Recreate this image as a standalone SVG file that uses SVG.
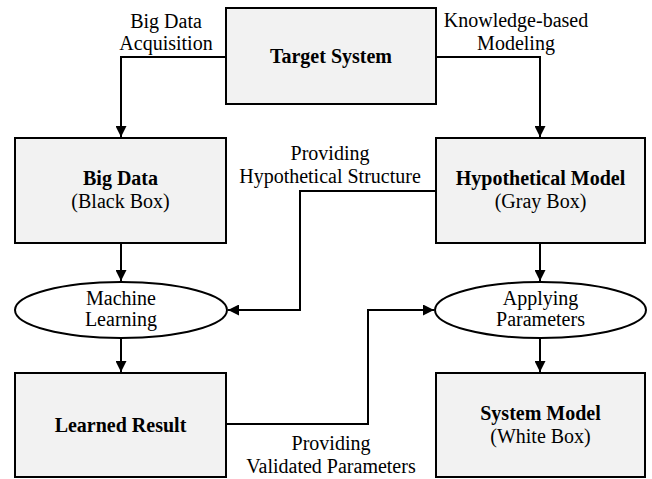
<svg xmlns="http://www.w3.org/2000/svg" width="652" height="479" viewBox="0 0 652 479">
  <style>
    .box { fill: #f2f2f2; stroke: #000; stroke-width: 2; }
    .oval { fill: #fff; stroke: #000; stroke-width: 2; }
    .wire { fill: none; stroke: #000; stroke-width: 2; }
    text { font-family: "Liberation Serif", Tinos, "DejaVu Serif", "Noto Serif", serif; font-size: 20px; fill: #000; text-anchor: middle; }
    .b { font-weight: bold; }
  </style>
  <defs>
    <marker id="arrow" viewBox="0 0 10 10" refX="10" refY="5" markerWidth="5.5" markerHeight="5.5" orient="auto" markerUnits="strokeWidth">
      <path d="M0,0 L10,5 L0,10 Z" fill="#000"/>
    </marker>
  </defs>

  <g id="connectors">
    <path class="wire" d="M226,57 H121 V137" marker-end="url(#arrow)"/>
    <path class="wire" d="M436,57 H540 V137" marker-end="url(#arrow)"/>
    <path class="wire" d="M121,243 V281" marker-end="url(#arrow)"/>
    <path class="wire" d="M540,243 V281" marker-end="url(#arrow)"/>
    <path class="wire" d="M121,338 V372" marker-end="url(#arrow)"/>
    <path class="wire" d="M540,338 V372" marker-end="url(#arrow)"/>
    <path class="wire" d="M436,191 H300 V310 H228" marker-end="url(#arrow)"/>
    <path class="wire" d="M226,424 H368 V310 H434" marker-end="url(#arrow)"/>
    <text x="166" y="28">Big Data</text>
    <text x="166" y="50">Acquisition</text>
    <text x="516" y="27">Knowledge-based</text>
    <text x="516" y="50">Modeling</text>
    <text x="330" y="160">Providing</text>
    <text x="330" y="183">Hypothetical Structure</text>
    <text x="331" y="450">Providing</text>
    <text x="331" y="473">Validated Parameters</text>
  </g>

  <g id="target-system">
    <rect class="box" x="226" y="8" width="210" height="96"/>
    <text class="b" x="331" y="63">Target System</text>
  </g>

  <g id="big-data">
    <rect class="box" x="15" y="138" width="211" height="105"/>
    <text class="b" x="120.5" y="185">Big Data</text>
    <text x="120.5" y="208">(Black Box)</text>
  </g>

  <g id="hypothetical-model">
    <rect class="box" x="436" y="138" width="209" height="105"/>
    <text class="b" x="540.5" y="185">Hypothetical Model</text>
    <text x="540.5" y="208">(Gray Box)</text>
  </g>

  <g id="machine-learning">
    <ellipse class="oval" cx="121" cy="310" rx="106" ry="28"/>
    <text x="121" y="305">Machine</text>
    <text x="121" y="326">Learning</text>
  </g>

  <g id="applying-parameters">
    <ellipse class="oval" cx="540.5" cy="310" rx="105.5" ry="28"/>
    <text x="540.5" y="305">Applying</text>
    <text x="540.5" y="326">Parameters</text>
  </g>

  <g id="learned-result">
    <rect class="box" x="15" y="373" width="211" height="104"/>
    <text class="b" x="120.5" y="432">Learned Result</text>
  </g>

  <g id="system-model">
    <rect class="box" x="436" y="373" width="209" height="104"/>
    <text class="b" x="540.5" y="420">System Model</text>
    <text x="540.5" y="443">(White Box)</text>
  </g>
</svg>
